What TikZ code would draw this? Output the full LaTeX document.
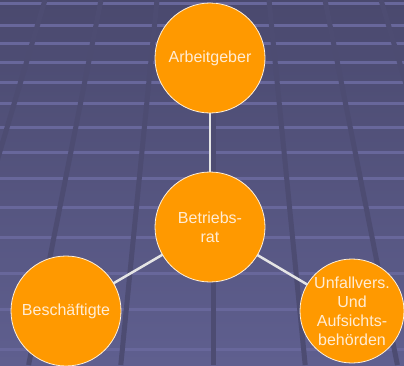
\documentclass[tikz,border=0pt]{standalone}
\usepackage{fontspec}
\setmainfont{Liberation Sans}
\definecolor{slidetop}{RGB}{74,73,110}
\definecolor{slidebot}{RGB}{95,95,143}
\definecolor{tilehi}{RGB}{104,103,155}
\definecolor{tilejoint}{RGB}{77,76,114}
\definecolor{bubblefill}{RGB}{255,153,0}
\definecolor{bubbletext}{RGB}{255,236,212}
\tikzstyle{bubble}=[
  circle,fill=bubblefill,draw=white!85!bubblefill,line width=0.8pt,
  inner sep=0pt,outer sep=0pt,minimum size=110pt,
  text=bubbletext,align=center,font=\fontsize{16}{19}\selectfont]
\tikzstyle{link}=[draw=white!90!black,line width=2.5pt]

\begin{document}
\begin{tikzpicture}[x=1pt,y=-1pt]
\useasboundingbox (0,0) rectangle (404,365);
\clip (0,0) rectangle (404,365);
% slide background with tiles
\shade[top color=slidetop,bottom color=slidebot] (0,0) rectangle (404,365);
\foreach \y in {3,25,43,62,82,103,127,152,178,207,237,273,309,349}
  \draw[tilehi,line width=3pt] (0,\y) -- (404,\y);
\foreach \k in {-4,...,4}
  \draw[tilejoint,line width=5pt] (213+56*\k,0) -- (213+92.2*\k,365);
% bubbles
\node[bubble] (boss) at (210,58) {Arbeitgeber};
\node[bubble] (council) at (210,227) {Betriebs-\\rat};
\node[bubble] (staff) at (66,311) {Beschäftigte};
\node[bubble,minimum size=104pt] (auth) at (352,311)
  {Unfallvers.\\Und\\Aufsichts-\\behörden};
\draw[link] (boss) -- (council);
\draw[link] (council) -- (staff);
\draw[link] (council) -- (auth);
\end{tikzpicture}
\end{document}
